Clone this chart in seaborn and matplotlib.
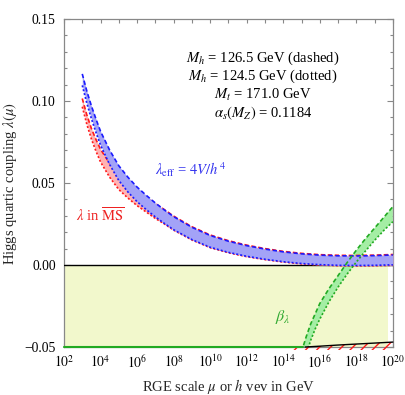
import matplotlib
matplotlib.use('Agg')
import matplotlib.pyplot as plt
import matplotlib.ticker as mticker
import numpy as np
import seaborn as sns

# log10(mu / GeV) where the lambda bands are sampled
log_mu = [3.0, 3.25, 3.5, 3.75, 4.0, 4.5, 5.0, 5.5, 6.0, 6.5, 7.0, 7.5, 8.0,
          9.0, 10, 11, 12, 13, 14, 15, 16, 17, 18, 19, 20]

# lambda_eff = 4V/h^4 (blue): Mh = 126.5 (dashed), Mh = 124.5 (dotted)
lam_eff_dashed = [0.1165, 0.1060, 0.0970, 0.0890, 0.0815, 0.0700, 0.0605, 0.0535, 0.0475,
                  0.0425, 0.0378, 0.0335, 0.0295, 0.0230, 0.0180, 0.0145, 0.0118, 0.0097,
                  0.0080, 0.0068, 0.0060, 0.0056, 0.0055, 0.0057, 0.0061]
lam_eff_dotted = [0.1095, 0.0986, 0.0892, 0.0808, 0.0730, 0.0612, 0.0515, 0.0445, 0.0386,
                  0.0338, 0.0293, 0.0253, 0.0215, 0.0155, 0.0108, 0.0077, 0.0053, 0.0035,
                  0.0020, 0.0009, 0.0002, -0.0002, -0.0003, -0.0002, 0.0001]

# lambda in MS-bar (red)
lam_ms_dashed = [0.1015, 0.0915, 0.0832, 0.0765, 0.0705, 0.0620, 0.0550, 0.0500, 0.0455,
                 0.0415, 0.0374, 0.0337, 0.0298, 0.0233, 0.0183, 0.0148, 0.0121, 0.0100,
                 0.0083, 0.0071, 0.0063, 0.0059, 0.0058, 0.0060, 0.0064]
lam_ms_dotted = [0.0965, 0.0858, 0.0768, 0.0694, 0.0628, 0.0535, 0.0460, 0.0408, 0.0362,
                 0.0323, 0.0284, 0.0250, 0.0213, 0.0153, 0.0106, 0.0075, 0.0051, 0.0033,
                 0.0018, 0.0007, 0.0000, -0.0004, -0.0005, -0.0004, -0.0002]

# beta_lambda band (green), two edges
beta_log_a = [15.0, 15.25, 15.5, 16.0, 16.5, 17.0, 17.5, 18.0, 18.5, 19.0, 19.5, 20.0]
beta_a = [-0.053, -0.044, -0.036, -0.0235, -0.0145, -0.0065, 0.0015, 0.0090, 0.0160,
          0.0225, 0.0290, 0.0356]
beta_log_b = [15.3, 15.5, 15.75, 16.0, 16.5, 17.0, 17.5, 18.0, 18.5, 19.0, 19.5, 20.0]
beta_b = [-0.053, -0.046, -0.039, -0.033, -0.0225, -0.0135, -0.0055, 0.0018, 0.0085,
          0.0150, 0.0210, 0.0264]

# bottom boundary (black line, red hatching below)
bound_log = [14.3, 15.2, 16, 17, 18, 19, 20]
bound_val = [-0.050, -0.050, -0.0495, -0.0488, -0.0482, -0.0476, -0.0470]

stable_log = [2, 19.75]          # shaded lambda < 0 region
beta_floor_log = [2, 15.1]       # green line along the bottom

x_ticks = list(range(2, 21, 2))
y_ticks = [-0.05, 0.00, 0.05, 0.10, 0.15]

info_lines = [r'$M_h$ = 126.5 GeV (dashed)', r'$M_h$ = 124.5 GeV (dotted)',
              r'$M_t$ = 171.0 GeV', r'$\alpha_s(M_Z)$ = 0.1184']

BLUE, RED, GREEN = '#1a1aff', '#ff1a1a', '#22aa22'
DASH = (0, (2.6, 1.6))
DOT = (0, (1.2, 1.2))


def to_mu(lg):
    return 10.0 ** np.asarray(lg, dtype=float)


sns.set_theme(style='ticks')
plt.rcParams['font.family'] = ['Liberation Serif', 'DejaVu Serif']
plt.rcParams['mathtext.fontset'] = 'stix'
plt.rcParams['hatch.linewidth'] = 1.0

fig = plt.figure(figsize=(4.05, 3.95), dpi=100)
ax = fig.add_axes([0.158, 0.1215, 0.812, 0.8305])
ax.set_xscale('log')

mu = to_mu(log_mu)

# lambda < 0 area
ax.fill_between(to_mu(stable_log), -0.05, 0.0, color='#f2f8cc', lw=0, zorder=1)
ax.axhline(0.0, color='black', lw=1.0, zorder=3)

# green beta band
xa, xb = to_mu(beta_log_a), to_mu(beta_log_b)
ax.fill(np.concatenate([xa, xb[::-1]]), np.concatenate([beta_a, beta_b[::-1]]),
        color='#a4eea4', lw=0, zorder=2)

# red band (MS-bar)
ax.fill_between(mu, lam_ms_dotted, lam_ms_dashed, color='#ffb3b3', lw=0, zorder=4)
sns.lineplot(x=mu, y=lam_ms_dashed, ax=ax, color=RED, lw=1.2, linestyle=DASH, zorder=5)
sns.lineplot(x=mu, y=lam_ms_dotted, ax=ax, color=RED, lw=1.2, linestyle=DOT, zorder=5)

# blue band (effective)
ax.fill_between(mu, lam_eff_dotted, lam_eff_dashed, color='#a3a3f7', lw=0, zorder=6)
sns.lineplot(x=mu, y=lam_eff_dashed, ax=ax, color=BLUE, lw=1.2, linestyle=DASH, zorder=7)
sns.lineplot(x=mu, y=lam_eff_dotted, ax=ax, color=BLUE, lw=1.2, linestyle=DOT, zorder=7)

sns.lineplot(x=xa, y=beta_a, ax=ax, color=GREEN, lw=1.2, linestyle=DASH, zorder=8)
sns.lineplot(x=xb, y=beta_b, ax=ax, color=GREEN, lw=1.2, linestyle=DOT, zorder=8)

# bottom
ax.plot(to_mu(beta_floor_log), [-0.05, -0.05], color=GREEN, lw=1.5, clip_on=False, zorder=9)
bx = to_mu(bound_log)
ax.fill_between(bx, -0.0518, bound_val, facecolor='none', edgecolor=RED, hatch='///',
                lw=0, clip_on=False, zorder=8)
ax.plot(bx[1:], bound_val[1:], color='black', lw=1.0, clip_on=False, zorder=9)

ax.set_xlim(1e2, 1e20)
ax.set_ylim(-0.05, 0.15)

ax.set_xticks(to_mu(x_ticks))
ax.set_xticklabels([r'$10^{%d}$' % k for k in x_ticks])
ax.set_xticks(to_mu(range(3, 20, 2)), minor=True)
ax.xaxis.set_minor_formatter(mticker.NullFormatter())
ax.set_yticks(y_ticks)
ax.set_yticklabels(['%.2f' % v if v >= 0 else '\u2212%.2f' % -v for v in y_ticks])
ax.set_yticks(np.arange(-0.04, 0.15, 0.01), minor=True)
ax.yaxis.set_minor_formatter(mticker.NullFormatter())

ax.tick_params(axis='both', which='both', direction='in', top=True, right=True,
               color='#888888', width=0.8, labelsize=9.8, labelcolor='black')
ax.tick_params(axis='x', which='both', length=3.2, pad=5)
ax.tick_params(axis='y', which='major', length=4, pad=6)
ax.tick_params(axis='y', which='minor', length=2.4)
for sp in ax.spines.values():
    sp.set_color('#888888')
    sp.set_linewidth(0.9)

ax.set_xlabel(r'RGE scale $\mu$ or $h$ vev in GeV', fontsize=10.5)
ax.set_ylabel(r'Higgs quartic coupling $\lambda(\mu)$', fontsize=10.5)
ax.xaxis.set_label_coords(0.5, -0.09)
ax.yaxis.set_label_coords(-0.136, 0.5)

for i, line in enumerate(info_lines):
    ax.text(0.605, 0.881 - i * 0.056, line, transform=ax.transAxes, ha='center',
            va='center', fontsize=10.5, color='black')

ax.text(0.385, 0.54, r'$\lambda_{\rm eff}$ = $4V/h^4$', transform=ax.transAxes,
        ha='center', va='center', fontsize=10.5, color='#3333ee')
ax.text(0.112, 0.40, r'$\lambda$ in $\overline{\rm MS}$', transform=ax.transAxes,
        ha='center', va='center', fontsize=10.5, color='#ee2222')
ax.text(0.666, 0.091, r'$\beta_\lambda$', transform=ax.transAxes,
        ha='center', va='center', fontsize=11.5, color='#33aa33')

plt.savefig('out.png', dpi=100)
